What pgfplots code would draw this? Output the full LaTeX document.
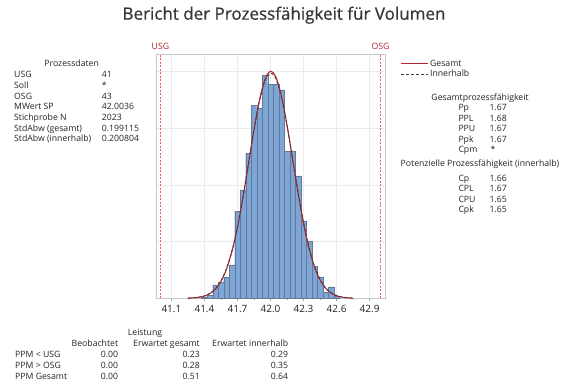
\documentclass[border=0pt]{standalone}
\usepackage{fontspec}
\setmainfont{Open Sans}
\newfontfamily\titlefont[FakeBold=0.7]{Open Sans}
\usepackage{pgfplots}
\pgfplotsset{compat=1.18}
\definecolor{barfill}{RGB}{124,165,216}
\definecolor{baredge}{RGB}{105,120,145}
\definecolor{gesamt}{RGB}{185,40,45}
\definecolor{innerh}{RGB}{60,60,60}
\definecolor{spec}{RGB}{240,95,95}
\definecolor{speclab}{RGB}{175,35,45}
\definecolor{txt}{RGB}{35,35,35}
\definecolor{titlec}{RGB}{55,55,55}
\newcommand{\fs}{\fontsize{8.7}{10}\selectfont}
\begin{document}
\begin{tikzpicture}
\useasboundingbox (0pt,0pt) rectangle (571pt,-384pt);
\begin{axis}[
  at={(156pt,-298.3pt)}, anchor=south west,
  scale only axis, width=229pt, height=244.3pt,
  xmin=40.96, xmax=43.04, ymin=0, ymax=2.156,
  axis line style={draw=black!22},
  xtick={41.1,41.4,41.7,42.0,42.3,42.6,42.9},
  xticklabels={41.1,41.4,41.7,42.0,42.3,42.6,42.9},
  minor xtick={41.25,41.55,41.85,42.15,42.45,42.75},
  ytick={0.5,1,1.5,2}, yticklabels={},
  xmajorgrids, ymajorgrids, grid style={black!8},
  tick align=outside, xtick pos=bottom, ytick pos=left,
  ytick style={draw=none},
  xtick style={draw=black!35},
  major tick length=3pt, minor tick length=2pt,
  tick label style={font=\fontsize{10}{11}\selectfont, text=txt},
  /pgf/number format/assume math mode=true,
  clip=false,
  legend style={at={(1.068,0.982)}, anchor=north west, draw=none, fill=none,
    inner sep=0pt, font=\fs, text=txt, row sep=0pt,
    nodes={inner sep=1.2pt}},
  legend cell align=left,
  legend image code/.code={\draw[#1] (0pt,0pt) -- (20pt,0pt); \path (0pt,0pt) -- (27pt,0pt);},
]
% histogram (density, bin width 0.05)
\addplot[ybar, bar width=0.05, bar shift=0pt, fill=barfill, draw=baredge, line width=0.4pt, forget plot]
coordinates {
(41.40,0.012) (41.45,0.025) (41.50,0.118) (41.55,0.138) (41.60,0.185)
(41.65,0.294) (41.70,0.77) (41.75,0.956) (41.80,1.28) (41.85,1.70)
(41.90,1.68) (41.95,1.97) (42.00,1.89) (42.05,1.89) (42.10,1.84)
(42.15,1.30) (42.20,1.30) (42.25,1.08) (42.30,0.68) (42.35,0.506)
(42.40,0.285) (42.45,0.19) (42.50,0.055) (42.55,0.10) (42.60,0.015)
};
% spec limits
\addplot[spec, dash pattern=on 2pt off 1.5pt, line width=0.6pt, forget plot] coordinates {(41,0) (41,2.156)};
\addplot[spec, dash pattern=on 2pt off 1.5pt, line width=0.6pt, forget plot] coordinates {(43,0) (43,2.156)};
% Gesamt
\addplot[gesamt, line width=1.1pt, smooth] coordinates {
(41.25,0.00155) (41.30,0.0039) (41.35,0.00917) (41.40,0.0202) (41.45,0.0420)
(41.50,0.0818) (41.55,0.1496) (41.60,0.2568) (41.65,0.4139) (41.70,0.6266)
(41.75,0.8904) (41.80,1.1879) (41.85,1.4881) (41.90,1.7499) (41.95,1.9323)
(42.00,2.0033) (42.05,1.9499) (42.10,1.7820) (42.15,1.5290) (42.20,1.2318)
(42.25,0.9317) (42.30,0.6617) (42.35,0.4411) (42.40,0.2762) (42.45,0.1623)
(42.50,0.0896) (42.55,0.0464) (42.60,0.0226) (42.65,0.0103) (42.70,0.0044)
(42.75,0.0018)
};
\addlegendentry{Gesamt}
% Innerhalb
\addplot[innerh, line width=0.8pt, dash pattern=on 3pt off 2pt, smooth] coordinates {
(41.25,0.00174) (41.30,0.00429) (41.35,0.00995) (41.40,0.02168) (41.45,0.04444)
(41.50,0.08556) (41.55,0.15485) (41.60,0.26356) (41.65,0.42142) (41.70,0.6336)
(41.75,0.89492) (41.80,1.18822) (41.85,1.48285) (41.90,1.73912) (41.95,1.9172)
(42.00,1.98641) (42.05,1.93438) (42.10,1.77053) (42.15,1.52304) (42.20,1.23143)
(42.25,0.93576) (42.30,0.66839) (42.35,0.44864) (42.40,0.28307) (42.45,0.16786)
(42.50,0.09356) (42.55,0.04901) (42.60,0.02412) (42.65,0.01117) (42.70,0.00486)
(42.75,0.00198)
};
\addlegendentry{Innerhalb}
\node[font=\fs, text=speclab, anchor=mid, inner sep=0pt] at (axis cs:41,2.156) [yshift=7pt] {USG};
\node[font=\fs, text=speclab, anchor=mid, inner sep=0pt] at (axis cs:43,2.156) [yshift=7pt] {OSG};
\end{axis}
% title
\node[font=\titlefont\fontsize{17}{19}\selectfont, text=titlec, anchor=mid, inner sep=0pt] at (284pt,-17pt) {Bericht der Prozessfähigkeit für Volumen};
\begin{scope}[every node/.style={font=\fs, text=txt, inner sep=0pt}]
% Prozessdaten
\node[anchor=mid] at (71.7pt,-64pt) {Prozessdaten};
\node[anchor=mid west] at (14pt,-75pt) {USG};
\node[anchor=mid west] at (14pt,-85.7pt) {Soll};
\node[anchor=mid west] at (14pt,-96.4pt) {OSG};
\node[anchor=mid west] at (14pt,-107.1pt) {MWert SP};
\node[anchor=mid west] at (14pt,-117.8pt) {Stichprobe N};
\node[anchor=mid west] at (14pt,-128.5pt) {StdAbw (gesamt)};
\node[anchor=mid west] at (14pt,-139.2pt) {StdAbw (innerhalb)};
\node[anchor=mid west] at (101.7pt,-75pt) {41};
\node[anchor=mid west] at (101.7pt,-85.7pt) {*};
\node[anchor=mid west] at (101.7pt,-96.4pt) {43};
\node[anchor=mid west] at (101.7pt,-107.1pt) {42.0036};
\node[anchor=mid west] at (101.7pt,-117.8pt) {2023};
\node[anchor=mid west] at (101.7pt,-128.5pt) {0.199115};
\node[anchor=mid west] at (101.7pt,-139.2pt) {0.200804};
% Gesamtprozessfaehigkeit
\node[anchor=mid] at (480pt,-97.5pt) {Gesamtprozessfähigkeit};
\node[anchor=mid west] at (458.3pt,-108pt) {Pp};
\node[anchor=mid west] at (458.3pt,-118.5pt) {PPL};
\node[anchor=mid west] at (458.3pt,-129pt) {PPU};
\node[anchor=mid west] at (458.3pt,-139.5pt) {Ppk};
\node[anchor=mid west] at (458.3pt,-150pt) {Cpm};
\node[anchor=mid west] at (489.3pt,-108pt) {1.67};
\node[anchor=mid west] at (489.3pt,-118.5pt) {1.68};
\node[anchor=mid west] at (489.3pt,-129pt) {1.67};
\node[anchor=mid west] at (489.3pt,-139.5pt) {1.67};
\node[anchor=mid west] at (490.5pt,-150pt) {*};
\node[anchor=mid] at (480pt,-163.5pt) {Potenzielle Prozessfähigkeit (innerhalb)};
\node[anchor=mid west] at (458.3pt,-178.5pt) {Cp};
\node[anchor=mid west] at (458.3pt,-189pt) {CPL};
\node[anchor=mid west] at (458.3pt,-199.5pt) {CPU};
\node[anchor=mid west] at (458.3pt,-210pt) {Cpk};
\node[anchor=mid west] at (489.3pt,-178.5pt) {1.66};
\node[anchor=mid west] at (489.3pt,-189pt) {1.67};
\node[anchor=mid west] at (489.3pt,-199.5pt) {1.65};
\node[anchor=mid west] at (489.3pt,-210pt) {1.65};
% Leistung
\node[anchor=mid] at (145pt,-333pt) {Leistung};
\node[anchor=mid east] at (118.3pt,-344pt) {Beobachtet};
\node[anchor=mid east] at (200pt,-344pt) {Erwartet gesamt};
\node[anchor=mid east] at (288.3pt,-344pt) {Erwartet innerhalb};
\node[anchor=mid west] at (15pt,-355pt) {PPM < USG};
\node[anchor=mid west] at (15pt,-366pt) {PPM > OSG};
\node[anchor=mid west] at (15pt,-377pt) {PPM Gesamt};
\node[anchor=mid east] at (118.3pt,-355pt) {0.00};
\node[anchor=mid east] at (118.3pt,-366pt) {0.00};
\node[anchor=mid east] at (118.3pt,-377pt) {0.00};
\node[anchor=mid east] at (200pt,-355pt) {0.23};
\node[anchor=mid east] at (200pt,-366pt) {0.28};
\node[anchor=mid east] at (200pt,-377pt) {0.51};
\node[anchor=mid east] at (288.3pt,-355pt) {0.29};
\node[anchor=mid east] at (288.3pt,-366pt) {0.35};
\node[anchor=mid east] at (288.3pt,-377pt) {0.64};
\end{scope}
\end{tikzpicture}
\end{document}
